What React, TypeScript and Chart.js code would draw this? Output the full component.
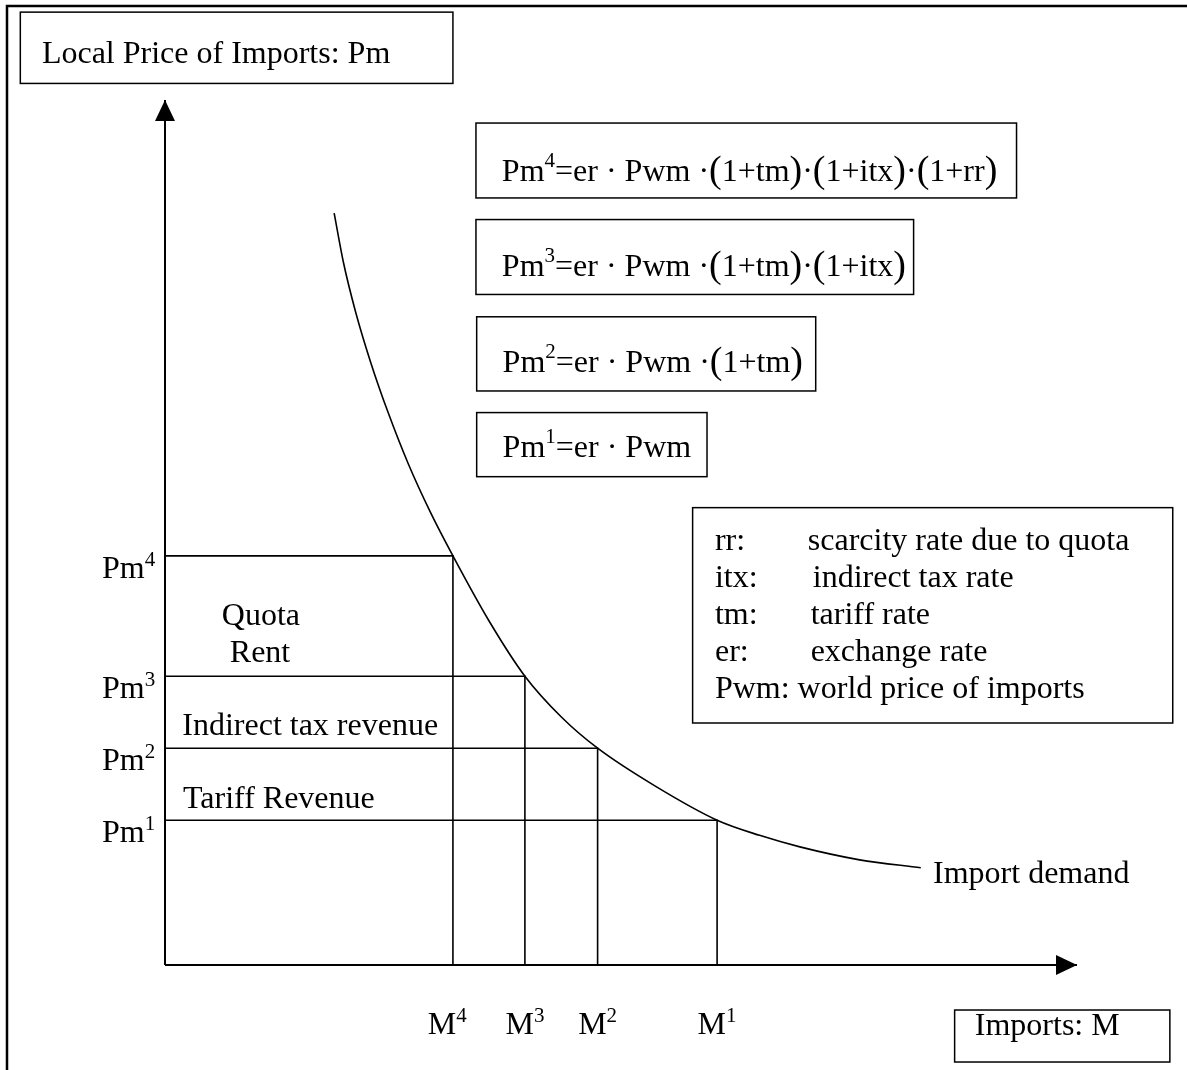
import React, { useEffect, useRef } from 'react';
import { Chart, registerables } from 'chart.js';

Chart.register(...registerables);

// ---------- data ----------
const levelLabels = ['1', '2', '3', '4'];
const importQuantities = [7.67, 6.01, 5.0, 4.0]; // M1..M4
const localPrices = [2.01, 3.01, 4.01, 5.68]; // Pm1..Pm4
const demandX = [2.35, 2.48, 2.65, 2.86, 3.1, 3.375, 3.69, 4.0, 4.5, 5.0, 5.51, 6.01, 6.8, 7.67, 8.26, 8.82, 9.65, 10.5];
const demandY = [10.44, 9.75, 9.06, 8.36, 7.67, 6.97, 6.28, 5.68, 4.78, 4.01, 3.44, 3.01, 2.49, 2.01, 1.8, 1.64, 1.46, 1.35];
const xAxisMax = 12.67;
const yAxisMax = 12.01;
const formulaFactors = ['1+tm', '1+itx', '1+rr'];
const legendKeys = ['rr:', 'itx:', 'tm:', 'er:'];
const legendDescriptions = ['scarcity rate due to quota', 'indirect tax rate', 'tariff rate', 'exchange rate'];
const legendLastRow = 'Pwm: world price of imports';
const areaLabels = ['Tariff Revenue', 'Indirect tax revenue', 'Quota', 'Rent'];
const yAxisTitle = 'Local Price of Imports: Pm';
const xAxisTitle = 'Imports: M';
const curveLabel = 'Import demand';

// ---------- layout (in axis units) ----------
const FONT = '"Liberation Serif", "Times New Roman", serif';
const BIG = 32;
const SUP = 21;
const mLabelShift = [0, 0, 0, -0.08];

type Run = { t: string; size?: number; dy?: number };

function drawRuns(ctx: CanvasRenderingContext2D, x: number, y: number, list: Run[]) {
  let cx = x;
  for (const r of list) {
    ctx.font = `${r.size ?? BIG}px ${FONT}`;
    ctx.fillText(r.t, cx, y + (r.dy ?? 0));
    cx += ctx.measureText(r.t).width;
  }
}

function formulaRuns(k: number): Run[] {
  const list: Run[] = [
    { t: 'Pm' },
    { t: levelLabels[k - 1], size: SUP, dy: -14 },
    { t: '=er' },
    { t: ' \u00b7 ' },
    { t: 'Pwm' },
  ];
  for (let j = 0; j < k - 1; j++) {
    list.push({ t: j === 0 ? ' \u00b7' : '\u00b7' });
    list.push({ t: '(', size: 38, dy: 1 });
    list.push({ t: formulaFactors[j] });
    list.push({ t: ')', size: 38, dy: 1 });
  }
  return list;
}

const formulaBoxes = [
  { k: 1, x0: 4.33, x1: 7.53, yTop: 7.67, yBot: 6.78, base: 7.06 },
  { k: 2, x0: 4.33, x1: 9.04, yTop: 9.0, yBot: 7.97, base: 8.24 },
  { k: 3, x0: 4.32, x1: 10.4, yTop: 10.35, yBot: 9.31, base: 9.56 },
  { k: 4, x0: 4.32, x1: 11.83, yTop: 11.69, yBot: 10.65, base: 10.89 },
];

const annotationPlugin = {
  id: 'annotations',
  afterDatasetsDraw(chart: any) {
    const ctx: CanvasRenderingContext2D = chart.ctx;
    const xs = chart.scales.x;
    const ys = chart.scales.y;
    const X = (v: number) => xs.getPixelForValue(v);
    const Y = (v: number) => ys.getPixelForValue(v);
    ctx.save();
    ctx.fillStyle = '#000';
    ctx.strokeStyle = '#000';
    ctx.textBaseline = 'alphabetic';

    // page frame
    ctx.lineWidth = 2.5;
    ctx.beginPath();
    ctx.moveTo(7, chart.height);
    ctx.lineTo(7, 6);
    ctx.lineTo(chart.width, 6);
    ctx.stroke();

    // arrowheads
    const ox = X(0);
    const oy = Y(0);
    const tipX = X(xAxisMax);
    const tipY = Y(yAxisMax);
    ctx.beginPath();
    ctx.moveTo(tipX, oy);
    ctx.lineTo(tipX - 21, oy - 10);
    ctx.lineTo(tipX - 21, oy + 10);
    ctx.closePath();
    ctx.fill();
    ctx.beginPath();
    ctx.moveTo(ox, tipY);
    ctx.lineTo(ox - 10, tipY + 21);
    ctx.lineTo(ox + 10, tipY + 21);
    ctx.closePath();
    ctx.fill();

    const box = (x0: number, y0: number, x1: number, y1: number) => {
      ctx.lineWidth = 1.5;
      ctx.strokeRect(X(x0), Y(y0), X(x1) - X(x0), Y(y1) - Y(y0));
    };

    // y-axis title box
    box(-2.01, 13.23, 4.0, 12.24);
    ctx.font = `${BIG}px ${FONT}`;
    ctx.fillText(yAxisTitle, X(-1.71), Y(12.53));

    // formula boxes
    for (const f of formulaBoxes) {
      box(f.x0, f.yTop, f.x1, f.yBot);
      drawRuns(ctx, X(f.x0 + 0.36), Y(f.base), formulaRuns(f.k));
    }

    // legend box
    box(7.33, 6.35, 14.0, 3.36);
    ctx.font = `${BIG}px ${FONT}`;
    const rowY = [5.766, 5.252, 4.738, 4.224, 3.71];
    const descX = [8.93, 9.0, 8.97, 8.97];
    legendKeys.forEach((k, i) => {
      ctx.fillText(k, X(7.64), Y(rowY[i]));
      ctx.fillText(legendDescriptions[i], X(descX[i]), Y(rowY[i]));
    });
    ctx.fillText(legendLastRow, X(7.64), Y(rowY[4]));

    // area labels
    ctx.fillText(areaLabels[0], X(0.25), Y(2.18));
    ctx.fillText(areaLabels[1], X(0.24), Y(3.19));
    ctx.fillText(areaLabels[2], X(0.79), Y(4.72));
    ctx.fillText(areaLabels[3], X(0.9), Y(4.21));

    // Pm tick labels
    localPrices.forEach((p, i) => {
      drawRuns(ctx, X(-0.875), Y(p) + 22, [
        { t: 'Pm' },
        { t: levelLabels[i], size: SUP, dy: -12 },
      ]);
    });

    // M tick labels (centred on each quantity)
    importQuantities.forEach((m, i) => {
      ctx.font = `${BIG}px ${FONT}`;
      const w1 = ctx.measureText('M').width;
      ctx.font = `${SUP}px ${FONT}`;
      const w2 = ctx.measureText(levelLabels[i]).width;
      drawRuns(ctx, X(m + mLabelShift[i]) - (w1 + w2) / 2, Y(-0.958), [
        { t: 'M' },
        { t: levelLabels[i], size: SUP, dy: -12 },
      ]);
    });

    // curve label
    ctx.font = `${BIG}px ${FONT}`;
    ctx.fillText(curveLabel, X(10.67), Y(1.14));

    // x-axis title box
    box(10.97, -0.625, 13.96, -1.347);
    ctx.font = `${BIG}px ${FONT}`;
    ctx.fillText(xAxisTitle, X(11.25), Y(-0.97));

    ctx.restore();
  },
};

export default function App() {
  const ref = useRef<HTMLCanvasElement | null>(null);

  useEffect(() => {
    if (!ref.current) return;
    const line = (pts: { x: number; y: number }[], width: number, extra: any = {}) => ({
      data: pts,
      showLine: true,
      borderColor: '#000',
      backgroundColor: '#000',
      borderWidth: width,
      pointRadius: 0,
      fill: false,
      clip: false,
      borderJoinStyle: 'miter',
      borderCapStyle: 'butt',
      ...extra,
    });
    const datasets: any[] = [];
    datasets.push(line([{ x: 0, y: 0 }, { x: xAxisMax, y: 0 }], 2));
    datasets.push(line([{ x: 0, y: 0 }, { x: 0, y: yAxisMax }], 2));
    importQuantities.forEach((m, i) => {
      datasets.push(
        line(
          [
            { x: 0, y: localPrices[i] },
            { x: m, y: localPrices[i] },
            { x: m, y: 0 },
          ],
          1.6
        )
      );
    });
    datasets.push(
      line(
        demandX.map((x, i) => ({ x, y: demandY[i] })),
        1.6,
        { cubicInterpolationMode: 'monotone' }
      )
    );

    const chart = new Chart(ref.current, {
      type: 'scatter',
      data: { datasets },
      options: {
        animation: false,
        responsive: false,
        devicePixelRatio: 1,
        layout: { padding: { left: 165, right: 110, top: 100, bottom: 105 } },
        scales: {
          x: { type: 'linear', min: 0, max: xAxisMax, display: false },
          y: { type: 'linear', min: 0, max: yAxisMax, display: false },
        },
        plugins: { legend: { display: false }, tooltip: { enabled: false } },
        events: [],
      } as any,
      plugins: [annotationPlugin as any],
    });
    return () => chart.destroy();
  }, []);

  return (
    <div style={{ position: 'absolute', left: 0, top: 0, width: 1187, height: 1070, background: '#fff' }}>
      <canvas ref={ref} width={1187} height={1070} style={{ display: 'block', width: 1187, height: 1070 }} />
    </div>
  );
}
